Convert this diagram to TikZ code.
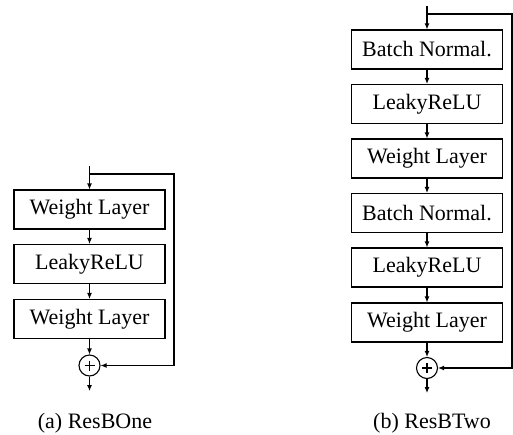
\documentclass[tikz,border=0pt]{standalone}
\usepackage{fontspec}
\setmainfont{Liberation Serif}
\usetikzlibrary{arrows.meta}
\begin{document}
\begin{tikzpicture}[x=1pt,y=-1pt,
  layer/.style={draw, minimum width=151pt, minimum height=39pt, inner sep=0pt,
    font=\fontsize{22}{26}\selectfont, line width=1.1pt},
  sumnode/.style={draw, circle, minimum size=21pt, inner sep=0pt, line width=1.1pt},
  flow/.style={-{Latex[length=6pt,width=5pt]}, line width=1.1pt},
  plain/.style={line width=1.1pt},
  caption/.style={font=\fontsize{22}{26}\selectfont, inner sep=0pt}]
\useasboundingbox (0,0) rectangle (513,434);
% ---- (a) ResBOne ----
\node[layer] (a1) at (89.5,209.5) {Weight Layer};
\node[layer] (a2) at (89.5,264) {LeakyReLU};
\node[layer] (a3) at (89.5,319) {Weight Layer};
\node[sumnode] (as) at (89.5,365.5) {};
\coordinate (ain) at (89.5,166);
\coordinate (asplit) at (89.5,174);
\coordinate (aright) at (174,174);
\coordinate (aout) at (89.5,391);
\draw[plain] (ain) -- (asplit);
\draw[flow] (asplit) -- (a1);
\draw[flow] (a1) -- (a2);
\draw[flow] (a2) -- (a3);
\draw[flow] (a3) -- (as);
\draw[flow] (as) -- (aout);
\draw[flow] (asplit) -- (aright) |- (as);
\draw[plain] (as.center) ++(-5,0) -- ++(10,0) (as.center) ++(0,-5) -- ++(0,10);
\node[caption] (capa) at (95,423) {(a) ResBOne};
% ---- (b) ResBTwo ----
\node[layer] (b1) at (427,49.5) {Batch Normal.};
\node[layer] (b2) at (427,104) {LeakyReLU};
\node[layer] (b3) at (427,158.5) {Weight Layer};
\node[layer] (b4) at (427,213) {Batch Normal.};
\node[layer] (b5) at (427,267.5) {LeakyReLU};
\node[layer] (b6) at (427,322.5) {Weight Layer};
\node[sumnode] (bs) at (427,368) {};
\coordinate (bin) at (427,6);
\coordinate (bsplit) at (427,14);
\coordinate (bright) at (512,14);
\coordinate (bout) at (427,393);
\draw[plain] (bin) -- (bsplit);
\draw[flow] (bsplit) -- (b1);
\draw[flow] (b1) -- (b2);
\draw[flow] (b2) -- (b3);
\draw[flow] (b3) -- (b4);
\draw[flow] (b4) -- (b5);
\draw[flow] (b5) -- (b6);
\draw[flow] (b6) -- (bs);
\draw[flow] (bs) -- (bout);
\draw[flow] (bsplit) -- (bright) |- (bs);
\draw[plain] (bs.center) ++(-5,0) -- ++(10,0) (bs.center) ++(0,-5) -- ++(0,10);
\node[caption] (capb) at (432,423) {(b) ResBTwo};
\end{tikzpicture}
\end{document}
